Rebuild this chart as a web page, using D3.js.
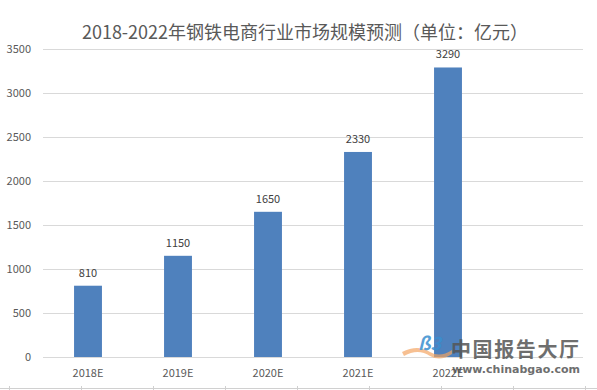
<!DOCTYPE html>
<html><head><meta charset="utf-8">
<script src="https://cdn.jsdelivr.net/npm/d3@7/dist/d3.min.js"></script>
<style>body{margin:0;background:#fff}svg{display:block}</style>
</head><body><svg id="c" width="597" height="390"></svg>
<script>
const categories = ["2018E","2019E","2020E","2021E","2022E",""];
const values = [810,1150,1650,2330,3290];
const yTicks = [0,500,1000,1500,2000,2500,3000,3500];
const title = "2018-2022年钢铁电商行业市场规模预测（单位：亿元）";

const svg = d3.select("#c");
const font = "'Microsoft YaHei','Noto Sans CJK SC',Calibri,'Liberation Sans',sans-serif";
const m = {left:43, right:14, top:49, bottom:33};
const W = 597, H = 390;
const x = d3.scaleBand().domain(categories).range([m.left, W - m.right]).paddingInner(0.69).paddingOuter(0.345);
const y = d3.scaleLinear().domain([0,3500]).range([357, 49]);

svg.append("text").attr("x",305).attr("y",39).attr("text-anchor","middle")
  .attr("font-family",font).attr("font-size",18).attr("fill","#595959").text(title);

// gridlines
svg.append("g").selectAll("line").data(yTicks).join("line")
  .attr("x1",m.left).attr("x2",W-m.right)
  .attr("y1",d=>y(d)+0.5).attr("y2",d=>y(d)+0.5)
  .attr("stroke","#d9d9d9").attr("stroke-width",1);

// y axis labels
const ya = svg.append("g").attr("transform",`translate(${m.left},0)`)
  .call(d3.axisLeft(y).tickValues(yTicks).tickFormat(d3.format("d")).tickSize(0).tickPadding(12));
ya.select(".domain").remove();
ya.selectAll("text").attr("font-family",font).attr("font-size",11).attr("fill","#595959");

// x axis labels
const xa = svg.append("g").attr("transform",`translate(0,357)`)
  .call(d3.axisBottom(x).tickSize(0).tickPadding(12));
xa.select(".domain").remove();
xa.selectAll("text").attr("font-family",font).attr("font-size",11).attr("fill","#595959");

// bars
const data = values.map((v,i)=>({c:categories[i], v}));
svg.append("g").selectAll("rect").data(data).join("rect")
  .attr("x",d=>x(d.c)).attr("width",x.bandwidth())
  .attr("y",d=>y(d.v)).attr("height",d=>y(0)-y(d.v))
  .attr("fill","#4F81BD");

svg.append("g").selectAll("text").data(data).join("text")
  .attr("x",d=>x(d.c)+x.bandwidth()/2).attr("y",d=>y(d.v)-9)
  .attr("text-anchor","middle").attr("font-family",font).attr("font-size",11)
  .attr("fill","#404040").text(d=>d.v);

// spreadsheet row line at bottom
svg.append("line").attr("x1",0).attr("x2",W).attr("y1",388.5).attr("y2",388.5).attr("stroke","#d0d0d0");
const cellEdges = d3.range(9.5, W, 72);
svg.append("g").selectAll("line").data(cellEdges).join("line")
  .attr("x1",d=>d).attr("x2",d=>d).attr("y1",386).attr("y2",390).attr("stroke","#d0d0d0");

// watermark
const wm = svg.append("g").attr("opacity",0.85);
wm.append("path").attr("d","M402,352 Q418,344 430,352 Q440,358 452,350 L452,354 Q440,362 430,356 Q418,348 404,356 Z").attr("fill","#f4a460").attr("opacity",0.8);
wm.append("text").attr("x",418).attr("y",350).attr("font-family",font).attr("font-size",18)
  .attr("font-style","italic").attr("font-weight","bold").attr("fill","#3a8fd0").text("ß3");
wm.append("text").attr("x",451).attr("y",357).attr("font-family",font).attr("font-size",20)
  .attr("font-weight","bold").attr("fill","#555").attr("textLength",128).text("中国报告大厅");
wm.append("text").attr("x",452).attr("y",373).attr("font-family","'DejaVu Sans',sans-serif").attr("font-size",11)
  .attr("font-weight","bold").attr("fill","#555").attr("textLength",128).text("www.chinabgao.com");
</script></body></html>
